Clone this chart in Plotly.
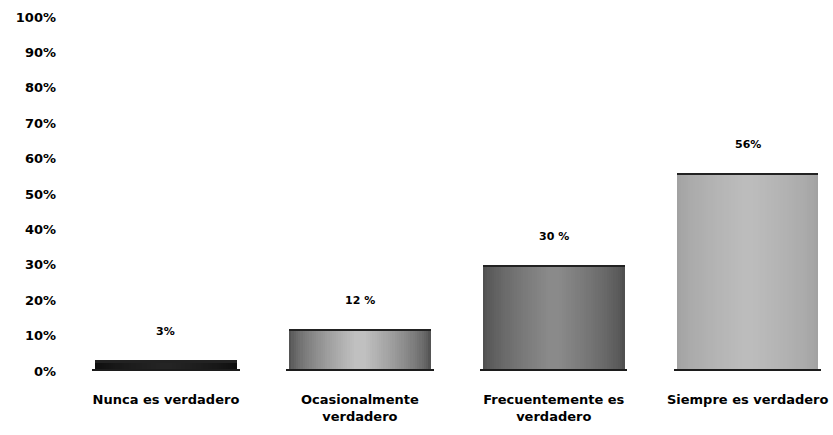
import plotly.graph_objects as go

# Survey responses: share of answers per frequency category
categories = [
    "Nunca es verdadero",
    "Ocasionalmente<br>verdadero",
    "Frecuentemente es<br>verdadero",
    "Siempre es verdadero",
]
values = [3, 12, 30, 56]
value_labels = ["3%", "12 %", "30 %", "56%"]
tick_vals = [0, 10, 20, 30, 40, 50, 60, 70, 80, 90, 100]
tick_text = ["0%", "10%", "20%", "30%", "40%", "50%", "60%", "70%", "80%", "90%", "100%"]

# edge / centre tones for the cylindrical shading of each bar
edge_rgb = [(14, 14, 14), (85, 85, 85), (80, 80, 80), (162, 162, 162)]
centre_rgb = [(36, 36, 36), (192, 192, 192), (138, 138, 138), (188, 188, 188)]

x = list(range(len(categories)))
bar_w = 0.73
layers = 30

fig = go.Figure()

# layered bars, narrowing towards the centre, give a horizontal gradient
for i in range(layers):
    t = i / (layers - 1)
    w = bar_w * (1 - 0.92 * t)
    cols = []
    for e, c in zip(edge_rgb, centre_rgb):
        r, g, b = (round(e[k] + (c[k] - e[k]) * t ** 0.7) for k in range(3))
        cols.append(f"rgb({r},{g},{b})")
    fig.add_trace(go.Bar(
        x=x, y=values, width=w, marker=dict(color=cols, line_width=0),
        hoverinfo="skip", showlegend=False,
    ))

# dark rim on top of each bar
fig.add_trace(go.Bar(
    x=x, y=[0.6] * len(values), base=[v - 0.6 for v in values], width=bar_w,
    marker=dict(color="#222222", line_width=0), hoverinfo="skip", showlegend=False,
))
# dark base plate under each bar
fig.add_trace(go.Bar(
    x=x, y=[0.5] * len(values), base=[0] * len(values), width=bar_w + 0.03,
    marker=dict(color="#1c1c1c", line_width=0), hoverinfo="skip", showlegend=False,
))

for xi, v, lab in zip(x, values, value_labels):
    fig.add_annotation(
        x=xi, y=v, xref="x", yref="y", text=f"<b>{lab}</b>", showarrow=False,
        yanchor="bottom", yshift=20,
        font=dict(family="DejaVu Sans", size=11, color="#000000"),
    )

fig.update_layout(
    width=833, height=435,
    margin=dict(l=69, r=0, t=17, b=64),
    paper_bgcolor="white", plot_bgcolor="white",
    barmode="overlay", bargap=0,
    font=dict(family="DejaVu Sans", size=13, color="#000000"),
    xaxis=dict(
        range=[-0.5, 3.44], tickmode="array", tickvals=x,
        ticktext=[f"<b>{c}</b>" for c in categories],
        showgrid=False, zeroline=False, showline=False, ticks="",
        ticklabelstandoff=19, tickfont=dict(size=13),
    ),
    yaxis=dict(
        range=[0, 100], tickmode="array", tickvals=tick_vals,
        ticktext=[f"<b>{t}</b>" for t in tick_text],
        showgrid=False, zeroline=False, showline=False, ticks="",
        ticklabelstandoff=12, tickfont=dict(size=13),
    ),
)

fig.write_html("out.html")
